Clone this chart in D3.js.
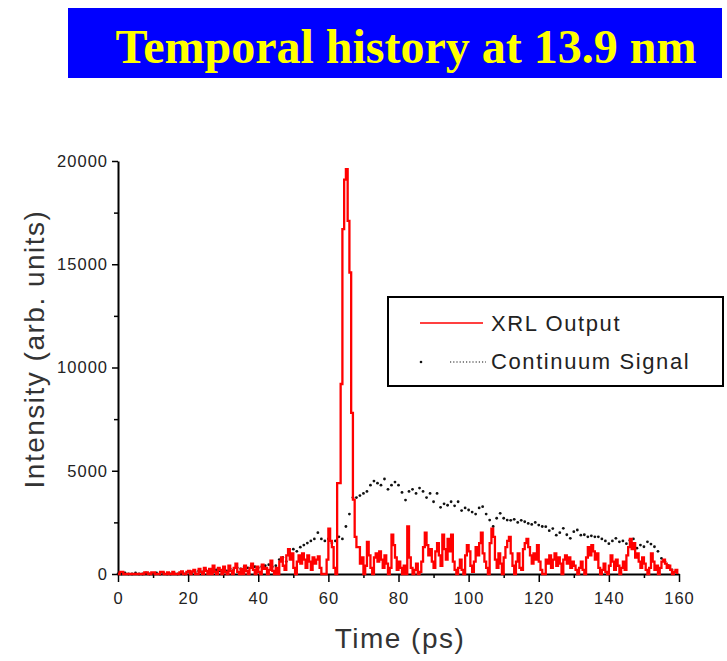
<!DOCTYPE html>
<html>
<head>
<meta charset="utf-8">
<script src="https://cdn.jsdelivr.net/npm/d3@7"></script>
<style>
body { margin: 0; background: #fff; }
text { font-family: Arial, "Liberation Sans", sans-serif; }
</style>
</head>
<body>
<script>
// XRL output, sampled every 0.5 ps; one row per 10 ps
const xrlStep = 0.5;
const xrlOutput = [
    0,100,100,0,0,0,0,0,0,0, 0,0,0,0,0,80,80,0,0,80,
    80,0,0,0,100,100,0,0,80,0, 0,100,0,0,0,80,120,0,0,100,
    150,0,120,200,0,0,250,100,0,300, 150,0,250,0,400,100,0,300,200,0,
    350,100,0,400,150,0,300,500,100,0, 250,0,400,150,0,300,500,200,0,350,
    100,0,450,250,300,0,200,650,150,0, 300,0,600,800,400,200,900,1200,700,1000,
    300,0,600,900,500,1000,700,300,900,600, 200,800,500,700,850,300,0,0,0,700,
    2200,1600,1300,300,0,4400,4400,9200,16700,19100, 19600,17100,14600,7800,3600,1800,1300,1300,500,800,
    0,400,1550,900,300,0,800,1000,600,1100, 700,300,900,500,0,300,1900,1400,800,200,
    600,300,0,400,0,2300,800,300,0,200, 500,0,100,600,1300,2000,1400,900,1200,600,
    300,1100,1500,900,400,1900,1200,700,1700,1100, 1900,600,200,0,300,700,200,0,900,1400,
    1100,400,100,600,1300,900,1500,2000,1000,600, 300,0,1500,2200,1800,700,300,1000,500,0,
    800,1300,1600,1800,1000,400,0,600,1000,300, 200,1200,1500,1700,1300,900,500,1000,700,1400,
    600,200,0,0,700,500,900,300,700,1000, 400,800,500,0,700,900,500,800,300,600,
    400,200,0,300,600,200,0,800,1300,900, 1400,1100,700,1000,300,0,200,500,100,0,
    400,900,600,200,700,400,0,300,600,200, 900,1300,1700,1200,1500,800,1000,600,300,800,
    500,200,0,300,1000,600,200,400,0,300, 600,700,500,300,400,200,0,100,200,0
];

// continuum signal, one point per ps
const contStep = 1;
const continuum = [
    0,0,50,0,0,50,0,0,50,0,
    0,50,0,50,0,0,50,0,50,0,
    100,50,100,150,100,200,100,150,200,150,
    200,150,250,200,300,250,350,300,400,350,
    300,350,400,450,350,400,700,800,600,900,
    1200,1100,1300,1400,1500,1600,1700,2000,1700,1600,
    1700,1500,1600,1800,1700,2300,2900,3700,3700,3800,
    3900,4000,4300,4500,4400,4300,4600,4100,4300,4450,
    4300,3950,3580,4000,4100,3900,4160,4000,3700,3900,
    3500,3900,3230,3400,3330,3500,3300,3500,3070,3200,
    3100,3000,2900,3200,3260,2900,2610,2300,2700,2940,
    2700,2610,2600,2650,2500,2600,2530,2450,2400,2500,
    2370,2300,2290,2100,2200,1880,2000,2210,1900,1730,
    2050,2130,1880,1900,1800,1850,1800,1800,1700,1600,
    1470,1600,1730,1560,1600,1470,1640,1700,1250,1400,
    1320,1560,1450,1320,1100,760,600,400,200,100
];

const xTicks = [0, 20, 40, 60, 80, 100, 120, 140, 160];
const yTicks = [0, 5000, 10000, 15000, 20000];
const seriesNames = ["XRL Output", "Continuum Signal"];
const titleText = "Temporal history at 13.9 nm";

var margin = {top: 161, right: 48, bottom: 87, left: 118},
    width = 727 - margin.left - margin.right,
    height = 661 - margin.top - margin.bottom;

var svg = d3.select("body").append("svg")
    .attr("width", 727)
    .attr("height", 661);

// title banner
svg.append("rect")
    .attr("x", 68).attr("y", 8)
    .attr("width", 654).attr("height", 70)
    .attr("fill", "#0000ff");
svg.append("text")
    .attr("x", 406).attr("y", 63)
    .attr("text-anchor", "middle")
    .style("font-family", "'Liberation Serif', 'Times New Roman', serif")
    .style("font-weight", "bold")
    .style("font-size", "48px")
    .attr("fill", "#ffff00")
    .text(titleText);

var g = svg.append("g")
    .attr("transform", "translate(" + margin.left + "," + margin.top + ")");

var x = d3.scaleLinear().domain([0, 160]).range([0, width]);
var y = d3.scaleLinear().domain([0, 20000]).range([height, 0]);

var xrlData = xrlOutput.map(function(v, i) { return {t: i * xrlStep, v: v}; });
var contData = continuum.map(function(v, i) { return {t: i * contStep, v: v}; });

// minor ticks
g.append("g")
    .attr("transform", "translate(0," + height + ")")
    .call(d3.axisBottom(x).tickValues(d3.range(10, 160, 20)).tickSize(4).tickFormat(""))
    .call(function(a) { a.select(".domain").remove(); a.selectAll("line").attr("stroke-width", 1.5); });
g.append("g")
    .call(d3.axisLeft(y).tickValues(d3.range(2500, 20000, 5000)).tickSize(4).tickFormat(""))
    .call(function(a) { a.select(".domain").remove(); a.selectAll("line").attr("stroke-width", 1.5); });

var axisX = g.append("g")
    .attr("transform", "translate(0," + height + ")")
    .call(d3.axisBottom(x).tickValues(xTicks).tickSize(8).tickSizeOuter(0).tickPadding(10).tickFormat(d3.format("d")));
var axisY = g.append("g")
    .call(d3.axisLeft(y).tickValues(yTicks).tickSize(6).tickSizeOuter(0).tickPadding(4).tickFormat(d3.format("d")));

[axisX, axisY].forEach(function(a) {
    a.select(".domain").attr("stroke-width", 2);
    a.selectAll("line").attr("stroke-width", 1.5);
    a.selectAll("text")
        .style("font-size", "16.5px")
        .style("letter-spacing", "1px")
        .attr("fill", "#222");
});

// continuum as dots
g.append("g").selectAll("circle")
    .data(contData)
    .join("circle")
    .attr("cx", function(d) { return x(d.t); })
    .attr("cy", function(d) { return y(d.v); })
    .attr("r", 1.4)
    .attr("fill", "#111");

var xrlLine = d3.line()
    .curve(d3.curveStepAfter)
    .x(function(d) { return x(d.t); })
    .y(function(d) { return y(d.v); });

g.append("path")
    .datum(xrlData)
    .attr("fill", "none")
    .attr("stroke", "#ff0000")
    .attr("stroke-width", 2.3)
    .attr("d", xrlLine);

// axis titles
svg.append("text")
    .attr("transform", "translate(44,349) rotate(-90)")
    .attr("text-anchor", "middle")
    .style("font-size", "28px")
    .style("letter-spacing", "1.5px")
    .attr("fill", "#333")
    .text("Intensity (arb. units)");
svg.append("text")
    .attr("x", 400).attr("y", 648)
    .attr("text-anchor", "middle")
    .style("font-size", "28px")
    .style("letter-spacing", "1.5px")
    .attr("fill", "#333")
    .text("Time (ps)");

// legend
var legend = svg.append("g");
legend.append("rect")
    .attr("x", 388).attr("y", 297)
    .attr("width", 335).attr("height", 89)
    .attr("fill", "#fff")
    .attr("stroke", "#000")
    .attr("stroke-width", 2);
legend.append("line")
    .attr("x1", 420).attr("x2", 483).attr("y1", 323).attr("y2", 323)
    .attr("stroke", "#ff0000").attr("stroke-width", 1.6);
legend.append("circle")
    .attr("cx", 421).attr("cy", 362).attr("r", 1.3).attr("fill", "#111");
legend.append("line")
    .attr("x1", 450).attr("x2", 486).attr("y1", 362).attr("y2", 362)
    .attr("stroke", "#111").attr("stroke-width", 1.2)
    .attr("stroke-dasharray", "1.2,2");
legend.selectAll("text.lab")
    .data(seriesNames)
    .join("text")
    .attr("class", "lab")
    .attr("x", 491)
    .attr("y", function(d, i) { return 331 + i * 38; })
    .style("font-size", "22px")
    .style("letter-spacing", "1.6px")
    .attr("fill", "#222")
    .text(function(d) { return d; });
</script>
</body>
</html>
